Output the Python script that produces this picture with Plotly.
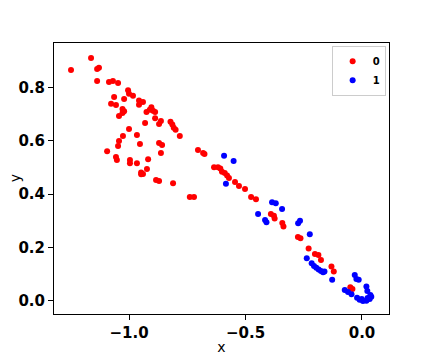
import plotly.graph_objects as go

# class 0 (red)
x0 = [-1.249, -1.163, -1.137, -1.129, -1.137, -1.086, -1.069, -1.047, -1.004, -1.000,
      -0.983, -1.064, -1.021, -0.957, -0.940, -0.957, -1.077, -1.056, -1.028, -1.021,
      -1.028, -1.043, -0.904, -0.911, -0.897, -0.888, -0.925, -0.888, -0.931, -0.863,
      -0.871, -0.822, -0.814, -0.808, -0.800, -0.782, -1.000, -0.966, -1.026, -1.043,
      -1.047, -0.953, -0.871, -0.858, -0.863, -1.094, -1.056, -1.052, -0.996, -0.996,
      -0.966, -0.918, -0.923, -0.948, -0.940, -0.948, -0.884, -0.871, -0.811, -0.704,
      -0.682, -0.676, -0.739, -0.721, -0.635, -0.618, -0.608, -0.601, -0.589, -0.579,
      -0.571, -0.545, -0.528, -0.502, -0.476, -0.455, -0.391, -0.378, -0.375, -0.342,
      -0.337, -0.275, -0.264, -0.229, -0.202, -0.187, -0.176, -0.131, -0.121, -0.050,
      -0.041]
y0 = [0.865, 0.910, 0.869, 0.873, 0.824, 0.820, 0.824, 0.816, 0.789, 0.776,
      0.768, 0.764, 0.756, 0.751, 0.745, 0.735, 0.738, 0.734, 0.719, 0.710,
      0.704, 0.693, 0.725, 0.716, 0.712, 0.708, 0.708, 0.684, 0.666, 0.674,
      0.663, 0.671, 0.661, 0.649, 0.641, 0.618, 0.644, 0.621, 0.618, 0.599,
      0.580, 0.588, 0.591, 0.584, 0.554, 0.561, 0.539, 0.528, 0.528, 0.516,
      0.516, 0.531, 0.494, 0.481, 0.475, 0.474, 0.453, 0.449, 0.441, 0.565,
      0.554, 0.550, 0.389, 0.389, 0.501, 0.501, 0.496, 0.484, 0.479, 0.470,
      0.460, 0.445, 0.430, 0.419, 0.389, 0.381, 0.326, 0.319, 0.309, 0.292,
      0.279, 0.239, 0.235, 0.196, 0.176, 0.172, 0.153, 0.129, 0.110, 0.051,
      0.045]

# class 1 (blue)
x1 = [-0.592, -0.551, -0.584, -0.386, -0.370, -0.343, -0.446, -0.416, -0.410, -0.274,
      -0.266, -0.224, -0.237, -0.216, -0.206, -0.196, -0.186, -0.176, -0.167, -0.161,
      -0.128, -0.031, -0.024, -0.014, -0.074, -0.060, -0.045, 0.019, 0.023, -0.021,
      -0.010, 0.004, 0.019, 0.033, 0.040, 0.036, 0.024, -0.001]
y1 = [0.544, 0.524, 0.439, 0.370, 0.366, 0.344, 0.326, 0.303, 0.295, 0.291,
      0.300, 0.250, 0.160, 0.141, 0.131, 0.124, 0.118, 0.112, 0.107, 0.110,
      0.079, 0.097, 0.082, 0.079, 0.041, 0.033, 0.025, 0.054, 0.037, 0.012,
      0.004, 0.000, 0.001, 0.007, 0.016, 0.022, 0.011, 0.007]

x_ticks = [-1.0, -0.5, 0.0]
y_ticks = [0.0, 0.2, 0.4, 0.6, 0.8]

fig = go.Figure()
fig.add_trace(go.Scatter(x=x0, y=y0, mode='markers', name='0',
                         marker=dict(color='red', size=6, line_width=0)))
fig.add_trace(go.Scatter(x=x1, y=y1, mode='markers', name='1',
                         marker=dict(color='blue', size=6, line_width=0)))

axis_common = dict(showgrid=False, zeroline=False, showline=True, linecolor='black',
                   linewidth=1, mirror=True, ticks='outside', ticklen=5, tickwidth=1,
                   tickcolor='black', tickformat='.1f', automargin=False,
                   tickfont=dict(family='DejaVu Sans', size=15, color='black', weight='bold'),
                   title_font=dict(family='DejaVu Sans', size=14, color='black'))

fig.update_xaxes(range=[-1.322, 0.116], tickvals=x_ticks, title_text='x',
                 title_standoff=1, **axis_common)
fig.update_yaxes(range=[-0.049, 0.966], tickvals=y_ticks, **axis_common)

# y label as an annotation so it can sit further left than plotly puts the title
fig.add_annotation(text='y', xref='paper', yref='paper', x=-0.117, y=0.5,
                   xanchor='center', yanchor='middle', textangle=-90, showarrow=False,
                   font=dict(family='DejaVu Sans', size=14, color='black'))

# page body adds an 8px offset, so the figure is a bit smaller than the window
fig.update_layout(
    width=424, height=352,
    margin=dict(l=46, r=43, t=35, b=46),
    plot_bgcolor='white', paper_bgcolor='white',
    legend=dict(x=0.99, y=0.99, xanchor='right', yanchor='top',
                bordercolor='#cccccc', borderwidth=1, bgcolor='white',
                itemwidth=30, tracegroupgap=0,
                font=dict(family='DejaVu Sans', size=10, color='black', weight='bold')),
)

fig.write_html("out.html")
